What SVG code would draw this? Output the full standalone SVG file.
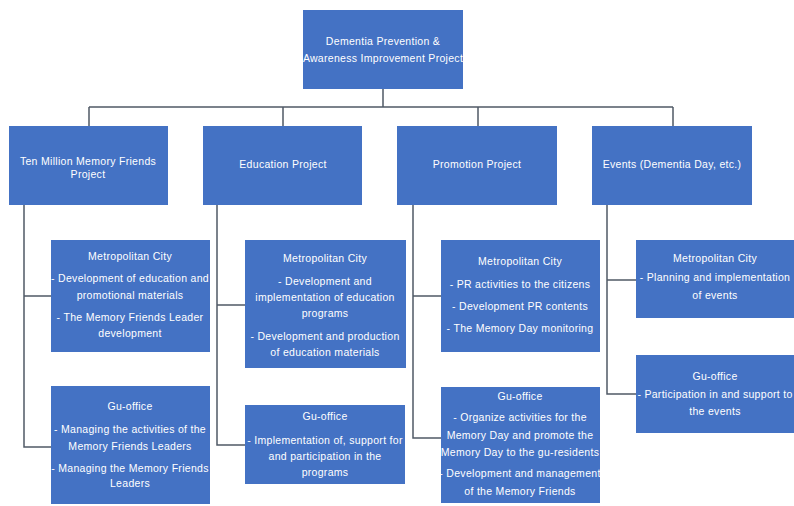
<svg xmlns="http://www.w3.org/2000/svg" width="794" height="506" viewBox="0 0 794 506">
<style>
.box{fill:#4472C4;}
.t{font-family:"Liberation Sans",Arial,sans-serif;font-size:10.5px;letter-spacing:0.3px;fill:#ffffff;text-anchor:middle;dominant-baseline:middle;}
.c{fill:none;stroke:#505a66;stroke-width:1.5;}
</style>
<rect width="794" height="506" fill="#ffffff"/>
<g id="connectors">
<path class="c" d="M383 89 V107 M89 107 H673 M89 107 V126 M283 107 V126 M478 107 V126 M673 107 V126"/>
<path class="c" d="M24 205 V447 H51 M24 296 H51"/>
<path class="c" d="M217 205 V445 H245 M217 305 H245"/>
<path class="c" d="M413 205 V438 H441 M413 296 H441"/>
<path class="c" d="M607 205 V394 H636 M607 280 H636"/>
</g>
<g id="root">
<rect class="box" x="303" y="10" width="160" height="79"/>
<text class="t" x="383" y="42">Dementia Prevention &amp;</text>
<text class="t" x="383" y="59">Awareness Improvement Project</text>
</g>
<g id="ten-million">
<rect class="box" x="9" y="126" width="159" height="79"/>
<text class="t" x="88" y="162">Ten Million Memory Friends</text>
<text class="t" x="88" y="175">Project</text>
</g>
<g id="education">
<rect class="box" x="203" y="126" width="159" height="79"/>
<text class="t" x="283" y="165">Education Project</text>
</g>
<g id="promotion">
<rect class="box" x="397" y="126" width="160" height="79"/>
<text class="t" x="477" y="165">Promotion Project</text>
</g>
<g id="events">
<rect class="box" x="592" y="126" width="160" height="79"/>
<text class="t" x="672" y="165">Events (Dementia Day, etc.)</text>
</g>
<g id="c1-metro">
<rect class="box" x="51" y="240" width="159" height="112"/>
<text class="t" x="130" y="257">Metropolitan City</text>
<text class="t" x="130" y="279">- Development of education and</text>
<text class="t" x="130" y="296">promotional materials</text>
<text class="t" x="130" y="318">- The Memory Friends Leader</text>
<text class="t" x="130" y="334">development</text>
</g>
<g id="c1-gu">
<rect class="box" x="51" y="386" width="159" height="118"/>
<text class="t" x="130" y="407">Gu-office</text>
<text class="t" x="130" y="430">- Managing the activities of the</text>
<text class="t" x="130" y="447">Memory Friends Leaders</text>
<text class="t" x="130" y="469">- Managing the Memory Friends</text>
<text class="t" x="130" y="484">Leaders</text>
</g>
<g id="c2-metro">
<rect class="box" x="245" y="240" width="161" height="128"/>
<text class="t" x="325" y="259">Metropolitan City</text>
<text class="t" x="325" y="282">- Development and</text>
<text class="t" x="325" y="298">implementation of education</text>
<text class="t" x="325" y="314">programs</text>
<text class="t" x="325" y="337">- Development and production</text>
<text class="t" x="325" y="353">of education materials</text>
</g>
<g id="c2-gu">
<rect class="box" x="245" y="405" width="160" height="79"/>
<text class="t" x="325" y="417">Gu-office</text>
<text class="t" x="325" y="441">- Implementation of, support for</text>
<text class="t" x="325" y="457">and participation in the</text>
<text class="t" x="325" y="473">programs</text>
</g>
<g id="c3-metro">
<rect class="box" x="441" y="240" width="159" height="112"/>
<text class="t" x="520" y="262">Metropolitan City</text>
<text class="t" x="520" y="285">- PR activities to the citizens</text>
<text class="t" x="520" y="307">- Development PR contents</text>
<text class="t" x="520" y="329">- The Memory Day monitoring</text>
</g>
<g id="c3-gu">
<rect class="box" x="441" y="387" width="159" height="116"/>
<text class="t" x="520" y="397">Gu-office</text>
<text class="t" x="520" y="418">- Organize activities for the</text>
<text class="t" x="520" y="436">Memory Day and promote the</text>
<text class="t" x="520" y="453">Memory Day to the gu-residents</text>
<text class="t" x="520" y="474">- Development and management</text>
<text class="t" x="520" y="492">of the Memory Friends</text>
</g>
<g id="c4-metro">
<rect class="box" x="636" y="240" width="158" height="78"/>
<text class="t" x="715" y="259">Metropolitan City</text>
<text class="t" x="715" y="278">- Planning and implementation</text>
<text class="t" x="715" y="296">of events</text>
</g>
<g id="c4-gu">
<rect class="box" x="636" y="355" width="158" height="78"/>
<text class="t" x="715" y="377">Gu-office</text>
<text class="t" x="715" y="395">- Participation in and support to</text>
<text class="t" x="715" y="412">the events</text>
</g>
</svg>
